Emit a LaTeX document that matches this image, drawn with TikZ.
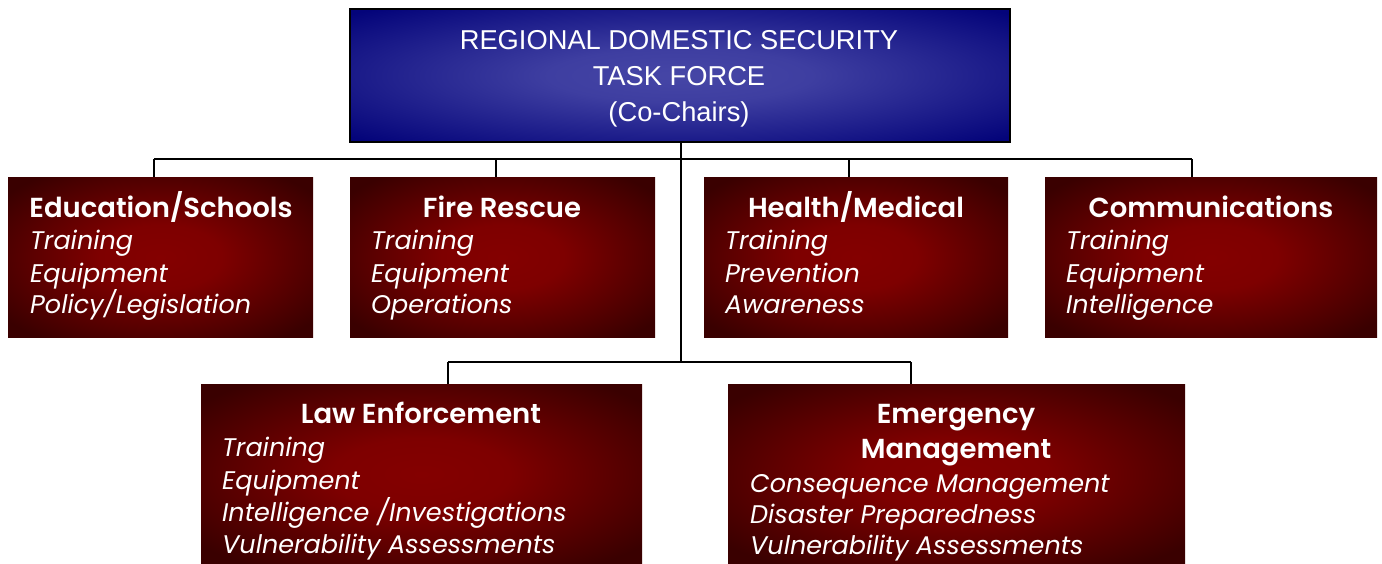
\documentclass[tikz,border=0pt]{standalone}
\usepackage{fontspec}
\setmainfont{Poppins}[BoldFont={Poppins SemiBold}]
\newfontfamily\titlefont{Liberation Sans}
\definecolor{redin}{HTML}{840000}
\definecolor{redout}{HTML}{3A0000}
\definecolor{bluein}{HTML}{4646A6}
\definecolor{blueout}{HTML}{04047A}
\pgfdeclareradialshading{redsh}{\pgfpoint{0bp}{0bp}}{color(0bp)=(redin); color(10bp)=(redin!92!redout); color(32bp)=(redout); color(100bp)=(redout)}
\pgfdeclareradialshading{bluesh}{\pgfpoint{0bp}{0bp}}{color(0bp)=(bluein); color(10bp)=(bluein!88!blueout); color(34bp)=(blueout); color(100bp)=(blueout)}
\tikzset{
  x=1pt, y=-1pt,
  redbox/.style={anchor=north west, inner sep=0pt, draw=none, shading=redsh},
  bluebox/.style={anchor=north west, inner sep=0pt, draw=black, line width=2pt, shading=bluesh},
  head/.style={anchor=base, text=white, inner sep=0pt, font=\fontsize{27.5}{33}\selectfont\bfseries},
  item/.style={anchor=base west, text=white, inner sep=0pt, font=\fontsize{25.5}{30}\selectfont\itshape},
  title/.style={anchor=base, text=white, inner sep=0pt, font=\titlefont\fontsize{27.3}{33}\selectfont},
  conn/.style={line width=2pt, draw=black},
}
\begin{document}
\begin{tikzpicture}
\useasboundingbox (0,0) rectangle (1382,563);
\coordinate (hub) at (681,363);
\coordinate (ja) at (681,159);
\coordinate (jl) at (154,159);
\coordinate (jfire) at (496,159);
\coordinate (jhealth) at (849,159);
\coordinate (jr) at (1192,159);
\coordinate (kl) at (448,362);
\coordinate (kr) at (911,362);

% boxes
\node[bluebox, minimum width=660pt, minimum height=133pt] (top) at (349,8) {};
\node[redbox, minimum width=305pt, minimum height=160pt] (edu) at (8,177) {};
\node[redbox, minimum width=305pt, minimum height=160pt] (fire) at (350,177) {};
\node[redbox, minimum width=304pt, minimum height=160pt] (health) at (704,177) {};
\node[redbox, minimum width=332pt, minimum height=160pt] (comm) at (1045,177) {};
\node[redbox, minimum width=441pt, minimum height=180pt] (law) at (201,384) {};
\node[redbox, minimum width=457pt, minimum height=180pt] (emer) at (728,384) {};

% connectors
\draw[conn] (top.south -| ja) -- (hub);
\draw[conn] (jl) -- (jr);
\draw[conn] (jl) -- (jl |- edu.north);
\draw[conn] (jfire) -- (jfire |- fire.north);
\draw[conn] (jhealth) -- (jhealth |- health.north);
\draw[conn] (jr) -- (jr |- comm.north);
\draw[conn] (kl) -- (kr);
\draw[conn] (kl) -- (kl |- law.north);
\draw[conn] (kr) -- (kr |- emer.north);

% title text
\node[title] (t1) at (679,49) {REGIONAL DOMESTIC SECURITY};
\node[title] (t2) at (679,85) {TASK FORCE};
\node[title] (t3) at (679,121) {(Co-Chairs)};

% Education
\node[head] (eduh) at (161,217) {Education/Schools};
\node[item] (edu1) at (30,249) {Training};
\node[item] (edu2) at (30,282) {Equipment};
\node[item] (edu3) at (30,313) {Policy/Legislation};
% Fire
\node[head] (fireh) at (502,217) {Fire Rescue};
\node[item] (fire1) at (371,249) {Training};
\node[item] (fire2) at (371,282) {Equipment};
\node[item] (fire3) at (371,313) {Operations};
% Health
\node[head] (healthh) at (856,217) {Health/Medical};
\node[item] (health1) at (725,249) {Training};
\node[item] (health2) at (725,282) {Prevention};
\node[item] (health3) at (725,313) {Awareness};
% Communications
\node[head] (commh) at (1211,217) {Communications};
\node[item] (comm1) at (1066,249) {Training};
\node[item] (comm2) at (1066,282) {Equipment};
\node[item] (comm3) at (1066,313) {Intelligence};

% Law Enforcement
\node[head] (lawh) at (421,423) {Law Enforcement};
\node[item] (law1) at (222,456) {Training};
\node[item] (law2) at (222,489) {Equipment};
\node[item] (law3) at (222,521) {Intelligence /Investigations};
\node[item] (law4) at (222,553) {Vulnerability Assessments};
% Emergency
\node[head] (emerh1) at (956,423) {Emergency};
\node[head] (emerh2) at (956,458) {Management};
\node[item] (emer1) at (750,492) {Consequence Management};
\node[item] (emer2) at (750,523) {Disaster Preparedness};
\node[item] (emer3) at (750,554) {Vulnerability Assessments};
\end{tikzpicture}
\end{document}
